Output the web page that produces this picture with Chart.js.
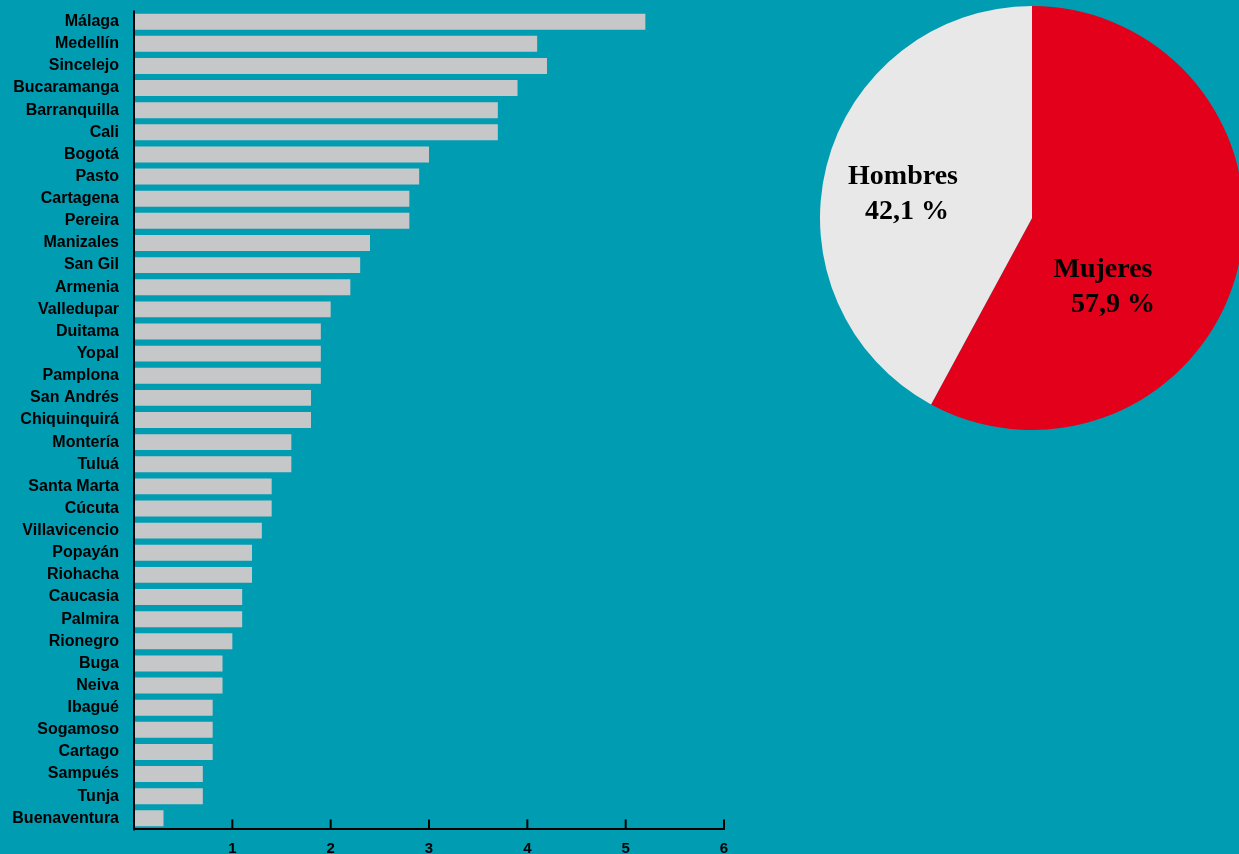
<!DOCTYPE html>
<html>
<head>
<meta charset="utf-8">
<script src="https://cdn.jsdelivr.net/npm/chart.js@4.4.1/dist/chart.umd.min.js"></script>
<style>
  html, body { margin: 0; padding: 0; width: 1239px; height: 854px; overflow: hidden; background: #009CB2; }
  #bars { position: absolute; left: 0; top: -14px; }
  #pie { position: absolute; left: 820px; top: 5px; }
</style>
</head>
<body>
<canvas id="bars" width="760" height="868"></canvas>
<canvas id="pie" width="424" height="426"></canvas>
<script>
const ciudades = ["Málaga", "Medellín", "Sincelejo", "Bucaramanga", "Barranquilla", "Cali", "Bogotá", "Pasto",
  "Cartagena", "Pereira", "Manizales", "San Gil", "Armenia", "Valledupar", "Duitama", "Yopal", "Pamplona",
  "San Andrés", "Chiquinquirá", "Montería", "Tuluá", "Santa Marta", "Cúcuta", "Villavicencio", "Popayán",
  "Riohacha", "Caucasia", "Palmira", "Rionegro", "Buga", "Neiva", "Ibagué", "Sogamoso", "Cartago",
  "Sampués", "Tunja", "Buenaventura"];
const valores = [5.2, 4.1, 4.2, 3.9, 3.7, 3.7, 3.0, 2.9, 2.8, 2.8, 2.4, 2.3, 2.2, 2.0, 1.9, 1.9, 1.9,
  1.8, 1.8, 1.6, 1.6, 1.4, 1.4, 1.3, 1.2, 1.2, 1.1, 1.1, 1.0, 0.9, 0.9, 0.8, 0.8, 0.8, 0.7, 0.7, 0.3];
const ticksX = [1, 2, 3, 4, 5, 6];

const generos = ["Mujeres", "Hombres"];
const porcentajes = [57.9, 42.1];
const etiquetas = ["57,9 %", "42,1 %"];

const sans = "'Liberation Sans', Arial, sans-serif";
const serif = "'Liberation Serif', 'DejaVu Serif', serif";

// axis lines on top of the bars + tick marks pointing up
const axes = {
  id: "axes",
  afterDraw(chart) {
    const { ctx, scales: { x }, chartArea } = chart;
    const x0 = x.getPixelForValue(0);
    ctx.save();
    ctx.strokeStyle = "#000";
    ctx.lineWidth = 2;
    ctx.beginPath();
    ctx.moveTo(x0, chartArea.top);
    ctx.lineTo(x0, chartArea.bottom + 1);
    ctx.stroke();
    ticksX.forEach(v => {
      const px = x.getPixelForValue(v);
      ctx.beginPath();
      ctx.moveTo(px, chartArea.bottom - 10);
      ctx.lineTo(px, chartArea.bottom);
      ctx.stroke();
    });
    ctx.restore();
  }
};

new Chart(document.getElementById("bars"), {
  type: "bar",
  data: {
    labels: ciudades,
    datasets: [{
      data: valores,
      backgroundColor: "#C6C7C9",
      categoryPercentage: 1,
      barPercentage: 0.72
    }]
  },
  options: {
    indexAxis: "y",
    responsive: false,
    animation: false,
    layout: { padding: { top: 10, right: 36, left: 0, bottom: 0 } },
    plugins: { legend: { display: false }, tooltip: { enabled: false } },
    scales: {
      x: {
        min: 0, max: 6,
        afterBuildTicks: s => { s.ticks = [0].concat(ticksX).map(v => ({ value: v })); },
        afterFit: s => { s.height = 24; },
        grid: { display: false, drawTicks: false },
        border: { display: true, color: "#000", width: 2 },
        ticks: {
          padding: 10,
          color: "#000",
          font: { family: sans, weight: "bold", size: 15 },
          callback: v => v === 0 ? "" : v
        }
      },
      y: {
        afterFit: s => { s.width = 134; },
        grid: { display: false, drawTicks: false },
        border: { display: false },
        ticks: {
          padding: 15,
          autoSkip: false,
          color: "#000",
          font: { family: sans, weight: "bold", size: 16 }
        }
      }
    }
  },
  plugins: [axes]
});

// labels inside the pie, placed relative to the centre
const pieLabels = {
  id: "pieLabels",
  afterDraw(chart) {
    const { ctx } = chart;
    const arc = chart.getDatasetMeta(0).data[0];
    const cx = arc.x, cy = arc.y;
    ctx.save();
    ctx.fillStyle = "#000";
    ctx.textAlign = "center";
    ctx.textBaseline = "middle";
    ctx.font = "bold 28px " + serif;
    ctx.fillText(generos[1], cx - 129, cy - 41);
    ctx.fillText(etiquetas[1], cx - 125, cy - 6);
    ctx.fillText(generos[0], cx + 71, cy + 52);
    ctx.fillText(etiquetas[0], cx + 81, cy + 87);
    ctx.restore();
  }
};

new Chart(document.getElementById("pie"), {
  type: "pie",
  data: {
    labels: generos,
    datasets: [{
      data: porcentajes,
      backgroundColor: ["#E2001A", "#E8E8E8"],
      borderWidth: 0
    }]
  },
  options: {
    responsive: false,
    animation: false,
    layout: { padding: 0 },
    plugins: { legend: { display: false }, tooltip: { enabled: false } }
  },
  plugins: [pieLabels]
});
</script>
</body>
</html>
